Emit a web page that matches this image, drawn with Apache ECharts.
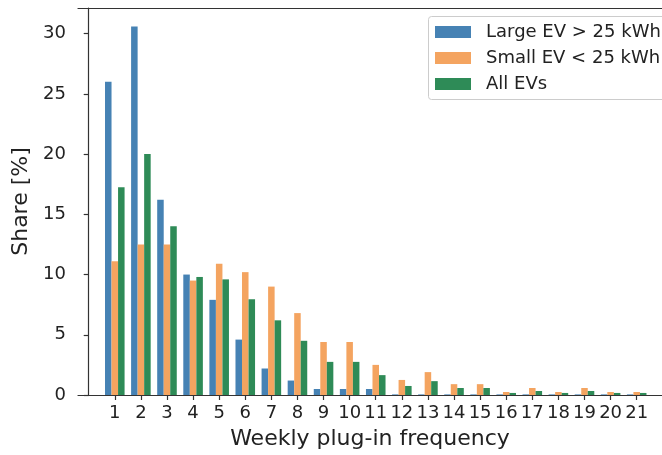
<!DOCTYPE html>
<html><head><meta charset="utf-8">
<script src="https://cdn.jsdelivr.net/npm/echarts@6/dist/echarts.min.js"></script>
<style>html,body{margin:0;padding:0;background:#fff}#c{width:662px;height:455px}</style>
</head><body><div id="c"></div>
<script>
const categories = [1,2,3,4,5,6,7,8,9,10,11,12,13,14,15,16,17,18,19,20,21];
const largeEV = [26.0,30.6,16.2,10.0,7.9,4.6,2.2,1.2,0.5,0.5,0.5,0.05,0.05,0.05,0.05,0.05,0.05,0.05,0.05,0.05,0.05];
const smallEV = [11.1,12.5,12.5,9.5,10.9,10.2,9.0,6.8,4.4,4.4,2.5,1.25,1.9,0.9,0.9,0.25,0.58,0.25,0.58,0.25,0.25];
const allEV   = [17.25,20.0,14.0,9.8,9.6,7.95,6.2,4.5,2.75,2.75,1.65,0.75,1.15,0.58,0.58,0.17,0.33,0.17,0.33,0.17,0.17];
const yTicks = [0,5,10,15,20,25,30];
const seriesNames = ['Large EV > 25 kWh','Small EV < 25 kWh','All EVs'];
const colors = ['#4682b4','#f4a460','#2e8b57'];

const font = 'DejaVu Sans';
const pair = arr => categories.map((c,i)=>[c, arr[i]]);
const chart = echarts.init(document.getElementById('c'), null, {renderer:'canvas'});
const spine = {color:'#333',width:1.2};
chart.setOption({
  animation:false,
  textStyle:{fontFamily:font},
  grid:{left:78,top:8,right:0,bottom:60,show:false},
  graphic:[{type:'rect',z:50,shape:{x:428.5,y:16.5,width:260,height:83,r:3},
    style:{fill:'rgba(255,255,255,0.8)',stroke:'#cccccc',lineWidth:1}}],
  legend:{
    left:428, top:17, orient:'vertical', z:60,
    data:seriesNames,
    icon:'rect', itemWidth:36, itemHeight:12, itemGap:8,
    padding:[6,8,7,7],
    textStyle:{fontFamily:font,fontSize:18,color:'#222',padding:[0,0,0,10],lineHeight:18}
  },
  xAxis:[{
    type:'value', min:-0.41, max:21.97, position:'bottom',
    name:'Weekly plug-in frequency', nameLocation:'middle', nameGap:33,
    nameTextStyle:{fontFamily:font,fontSize:22,color:'#222'},
    splitLine:{show:false},
    axisLine:{show:true,onZero:false,lineStyle:spine},
    axisTick:{show:true,length:5,lineStyle:spine,customValues:categories},
    axisLabel:{fontFamily:font,fontSize:18,color:'#222',margin:9,customValues:categories}
  },{
    type:'value', min:-0.41, max:21.97, position:'top',
    splitLine:{show:false},
    axisLine:{show:true,onZero:false,lineStyle:spine},
    axisTick:{show:false}, axisLabel:{show:false}
  }],
  yAxis:{
    type:'value', min:0, max:32.13,
    name:'Share [%]', nameLocation:'middle', nameGap:41,
    nameTextStyle:{fontFamily:font,fontSize:22,color:'#222'},
    splitLine:{show:false},
    axisLine:{show:true,lineStyle:spine},
    axisTick:{show:true,length:5,lineStyle:spine,customValues:yTicks},
    axisLabel:{fontFamily:font,fontSize:18,color:'#222',margin:12,customValues:yTicks}
  },
  series:[
    {name:seriesNames[0],type:'bar',data:pair(largeEV),itemStyle:{color:colors[0]},barWidth:'25%',barGap:'0%'},
    {name:seriesNames[1],type:'bar',data:pair(smallEV),itemStyle:{color:colors[1]},barWidth:'25%',barGap:'0%'},
    {name:seriesNames[2],type:'bar',data:pair(allEV),itemStyle:{color:colors[2]},barWidth:'25%',barGap:'0%'}
  ]
});
</script></body></html>
